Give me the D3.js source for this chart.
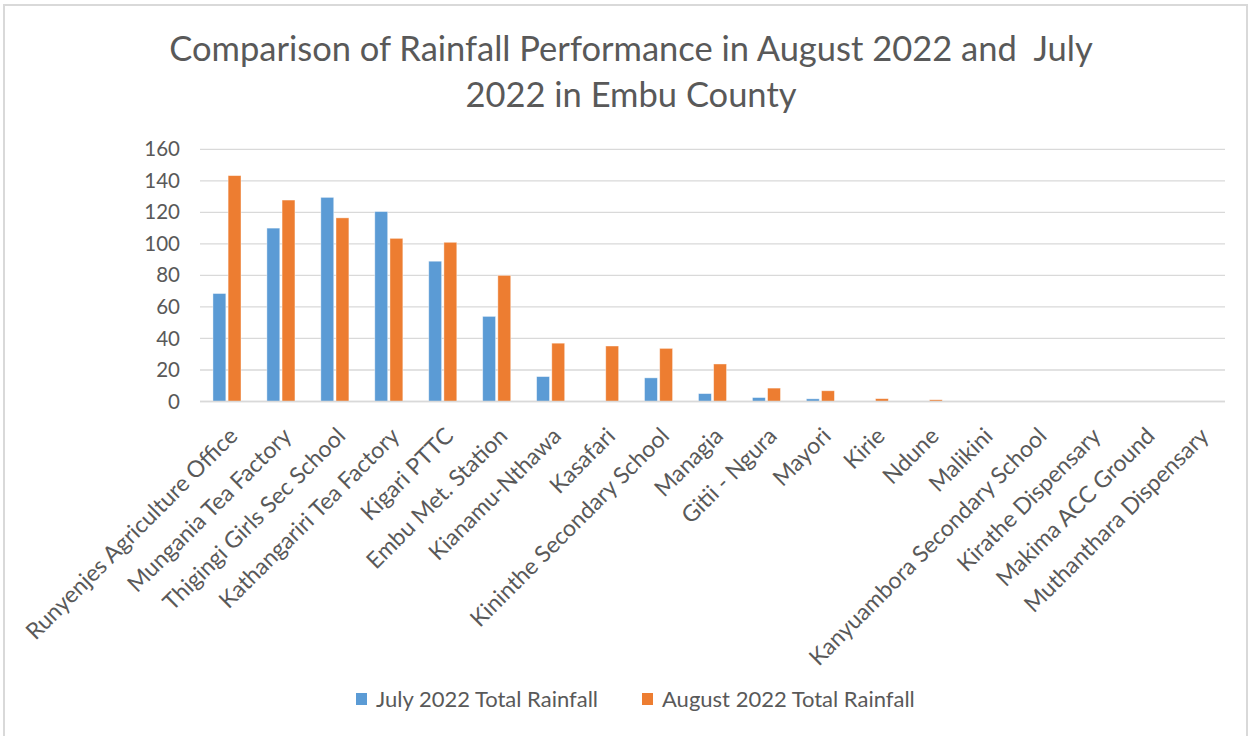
<!DOCTYPE html>
<html>
<head>
<meta charset="utf-8">
<script src="https://cdn.jsdelivr.net/npm/d3@7"></script>
<style>
  body { margin: 0; background: #fff; }
  text { font-family: Lato, "Open Sans", sans-serif; fill: #595959; }
</style>
</head>
<body>
<div id="graph"></div>
<script>
var stations = ["Runyenjes Agriculture Office", "Mungania Tea Factory", "Thigingi Girls Sec School",
    "Kathangariri Tea Factory", "Kigari PTTC", "Embu Met. Station", "Kianamu-Nthawa", "Kasafari",
    "Kininthe Secondary School", "Managia", "Gitii - Ngura", "Mayori", "Kirie", "Ndune", "Malikini",
    "Kanyuambora Secondary School", "Kirathe Dispensary", "Makima ACC Ground", "Muthanthara Dispensary"];
var julyRain = [68.5, 110, 129.5, 120.5, 89, 54, 15.8, 0, 15, 5, 2.5, 1.7, 0, 0, 0, 0, 0, 0, 0];
var augRain = [143.3, 127.8, 116.5, 103.5, 101, 80, 37, 35.2, 33.7, 23.8, 8.5, 6.8, 1.8, 1.1, 0, 0, 0, 0, 0];
var seriesNames = ["July 2022 Total Rainfall", "August 2022 Total Rainfall"];
var seriesColors = ["#5b9bd5", "#ed7d31"];
var yTicks = [0, 20, 40, 60, 80, 100, 120, 140, 160];
var titleLines = ["Comparison of Rainfall Performance in August 2022 and  July", "2022 in Embu County"];

var width = 1251, height = 736;
var margin = {top: 150, right: 26, bottom: 335, left: 200};

var svg = d3.select("#graph").append("svg")
    .attr("width", width)
    .attr("height", height);

// chart frame
svg.append("rect")
    .attr("x", 4).attr("y", 5)
    .attr("width", 1243).attr("height", 740)
    .attr("fill", "#fff")
    .attr("stroke", "#d9d9d9")
    .attr("stroke-width", 2);

var title = svg.append("text")
    .attr("x", 631)
    .attr("text-anchor", "middle")
    .style("font-size", "34.5px")
    .style("white-space", "pre");
title.selectAll("tspan")
    .data(titleLines)
    .enter().append("tspan")
    .attr("x", 631)
    .attr("y", function(d, i) { return 61 + i * 46; })
    .text(function(d) { return d; });

var data = stations.map(function(s, i) {
    return {name: s, values: [{v: julyRain[i], s: 0}, {v: augRain[i], s: 1}]};
});

var xScale = d3.scaleBand().domain(stations).range([margin.left, width - margin.right]).paddingInner(0);
var xInner = d3.scaleBand().domain([0, 1]).range([xScale.bandwidth() * 0.24, xScale.bandwidth() * 0.76]).paddingInner(0.15);
var yScale = d3.scaleLinear().domain([0, 160]).range([401.5, 149.3]);

// gridlines
svg.append("g")
    .selectAll("line")
    .data(yTicks)
    .enter().append("line")
    .attr("x1", margin.left)
    .attr("x2", width - margin.right)
    .attr("y1", function(d) { return yScale(d); })
    .attr("y2", function(d) { return yScale(d); })
    .attr("stroke", "#d9d9d9")
    .attr("stroke-width", 1.3);

var yAxis = d3.axisLeft(yScale).tickValues(yTicks).tickSize(0).tickPadding(20);
var yContainer = svg.append("g")
    .attr("transform", "translate(" + margin.left + ",0)")
    .call(yAxis);
yContainer.select(".domain").remove();
yContainer.selectAll("text")
    .style("font-size", "20.5px")
    .attr("fill", "#595959")
    .style("font-family", "Lato, sans-serif");

var groups = svg.append("g")
    .selectAll("g")
    .data(data)
    .enter().append("g")
    .attr("transform", function(d) { return "translate(" + xScale(d.name) + ",0)"; });

groups.selectAll("rect")
    .data(function(d) { return d.values.filter(function(p) { return p.v > 0; }); })
    .enter().append("rect")
    .attr("x", function(p) { return xInner(p.s); })
    .attr("width", xInner.bandwidth())
    .attr("y", function(p) { return yScale(p.v); })
    .attr("height", function(p) { return yScale(0) - yScale(p.v); })
    .attr("fill", function(p) { return seriesColors[p.s]; })
    .attr("stroke", "#fff")
    .attr("stroke-opacity", 0.5)
    .attr("stroke-width", 0.8);

// bottom axis line
svg.append("line")
    .attr("x1", margin.left).attr("x2", width - margin.right)
    .attr("y1", yScale(0)).attr("y2", yScale(0))
    .attr("stroke", "#d9d9d9").attr("stroke-width", 1.5);

var xAxis = d3.axisBottom(xScale).tickSize(0).tickPadding(0);
var xContainer = svg.append("g")
    .attr("transform", "translate(0," + yScale(0) + ")")
    .call(xAxis);
xContainer.select(".domain").remove();
xContainer.selectAll("text")
    .style("font-size", "23px")
    .style("font-family", "Lato, sans-serif")
    .attr("fill", "#595959")
    .attr("text-anchor", "end")
    .attr("dy", "0")
    .attr("y", 0)
    .attr("transform", "translate(12,36) rotate(-45)");

// legend
var legend = svg.append("g")
    .selectAll("g")
    .data(seriesNames)
    .enter().append("g")
    .attr("transform", function(d, i) { return "translate(" + (356 + i * 286) + ",693)"; });
legend.append("rect")
    .attr("width", 11).attr("height", 12)
    .attr("fill", function(d, i) { return seriesColors[i]; });
legend.append("text")
    .attr("x", 20).attr("y", 14)
    .style("font-size", "22px")
    .text(function(d) { return d; });
</script>
</body>
</html>
